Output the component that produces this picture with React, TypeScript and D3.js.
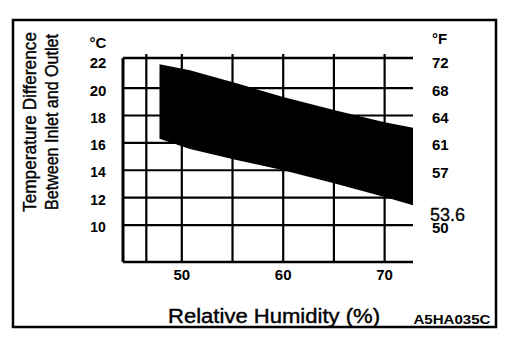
import React from 'react'
import * as d3 from 'd3'

// band of temperature difference vs relative humidity
const humidity = [47.8, 50.8, 55.4, 60, 65, 70, 72.8]
const upperTemp = [21.75, 21.3, 20.35, 19.35, 18.4, 17.5, 17.1]
const lowerTemp = [16.3, 15.55, 14.75, 14.0, 13.05, 12.05, 11.45]

const xGrid = [46.5, 50, 55, 60, 65, 70]
const xTicks = [50, 60, 70]
const yGrid = [10, 12, 14, 16, 18, 20]
const celsiusTicks = [22, 20, 18, 16, 14, 12, 10]
const fahrenheitTicks = ['72', '68', '64', '61', '57', '53.6', '50']

const font = '"Liberation Sans", Arial, sans-serif'

export default function App() {
  const width = 512
  const height = 354

  const x = d3.scaleLinear().domain([44.2, 72.8]).range([123, 413])
  const y = d3.scaleLinear().domain([7.3, 22.2]).range([262, 58])

  const band = humidity.map((h, i) => ({ h, hi: upperTemp[i], lo: lowerTemp[i] }))
  const area = d3.area<{ h: number; hi: number; lo: number }>()
    .x(d => x(d.h))
    .y0(d => y(d.lo))
    .y1(d => y(d.hi))

  const [x0, x1] = x.range()
  const [yb, yt] = y.range()

  return (
    <svg width={width} height={height} style={{ position: 'absolute', left: 0, top: 0, background: '#fff' }}>
      <rect x={0} y={0} width={width} height={height} fill="#fff" />
      {/* outer frame */}
      <rect x={13} y={20} width={483} height={307} fill="none" stroke="#000" strokeWidth={2.5} />

      {/* grid */}
      {yGrid.map(v => (
        <line key={'h' + v} x1={x0} x2={x1} y1={y(v)} y2={y(v)} stroke="#000" strokeWidth={2.2} />
      ))}
      {xGrid.map(v => (
        <line key={'v' + v} x1={x(v)} x2={x(v)} y1={yt - 4} y2={yb} stroke="#000" strokeWidth={2.2} />
      ))}
      <line x1={x0} x2={x1} y1={yt} y2={yt} stroke="#000" strokeWidth={2.5} />
      <line x1={x0} x2={x1} y1={yb} y2={yb} stroke="#000" strokeWidth={2.5} />
      <line x1={x0} x2={x0} y1={yt} y2={yb} stroke="#000" strokeWidth={3} />

      {/* band */}
      <path d={area(band) || ''} fill="#000" />

      {/* left axis */}
      <text x={98} y={42} textAnchor="middle" dominantBaseline="central" fontFamily={font} fontWeight="bold" fontSize={15}>°C</text>
      {celsiusTicks.map(v => (
        <text key={'c' + v} x={98} y={y(v) + 2} textAnchor="middle" dominantBaseline="central"
          fontFamily={font} fontWeight="bold" fontSize={v >= 20 ? 15 : 14}>{v}</text>
      ))}

      {/* right axis */}
      <text x={432} y={38} dominantBaseline="central" fontFamily={font} fontWeight="bold" fontSize={15}>°F</text>
      {fahrenheitTicks.map((t, i) => {
        const c = celsiusTicks[i]
        if (t === '53.6') {
          return (
            <text key={'f' + t} x={430} y={y(c) + 17} dominantBaseline="central"
              fontFamily={font} fontSize={18} stroke="#000" strokeWidth={0.3}>{t}</text>
          )
        }
        return (
          <text key={'f' + t} x={432} y={y(c) + 2} dominantBaseline="central"
            fontFamily={font} fontWeight="bold" fontSize={15}>{t}</text>
        )
      })}

      {/* x axis */}
      {xTicks.map(v => (
        <text key={'x' + v} x={x(v)} y={274} textAnchor="middle" dominantBaseline="central"
          fontFamily={font} fontWeight="bold" fontSize={15}>{v}</text>
      ))}
      <text x={274} y={323} textAnchor="middle" fontFamily={font} fontSize={20} stroke="#000" strokeWidth={0.4}
        textLength={212} lengthAdjust="spacingAndGlyphs">Relative Humidity (%)</text>
      <text x={452} y={324} textAnchor="middle" fontFamily={font} fontWeight="bold" fontSize={13}
        textLength={77} lengthAdjust="spacingAndGlyphs">A5HA035C</text>

      {/* y title */}
      <g transform="translate(36,122) rotate(-90)">
        <text x={0} y={0} textAnchor="middle" fontFamily={font} fontSize={18} stroke="#000" strokeWidth={0.4}
          textLength={180} lengthAdjust="spacingAndGlyphs">Temperature Difference</text>
      </g>
      <g transform="translate(58,122) rotate(-90)">
        <text x={0} y={0} textAnchor="middle" fontFamily={font} fontSize={18} stroke="#000" strokeWidth={0.4}
          textLength={176} lengthAdjust="spacingAndGlyphs">Between Inlet and Outlet</text>
      </g>
    </svg>
  )
}
